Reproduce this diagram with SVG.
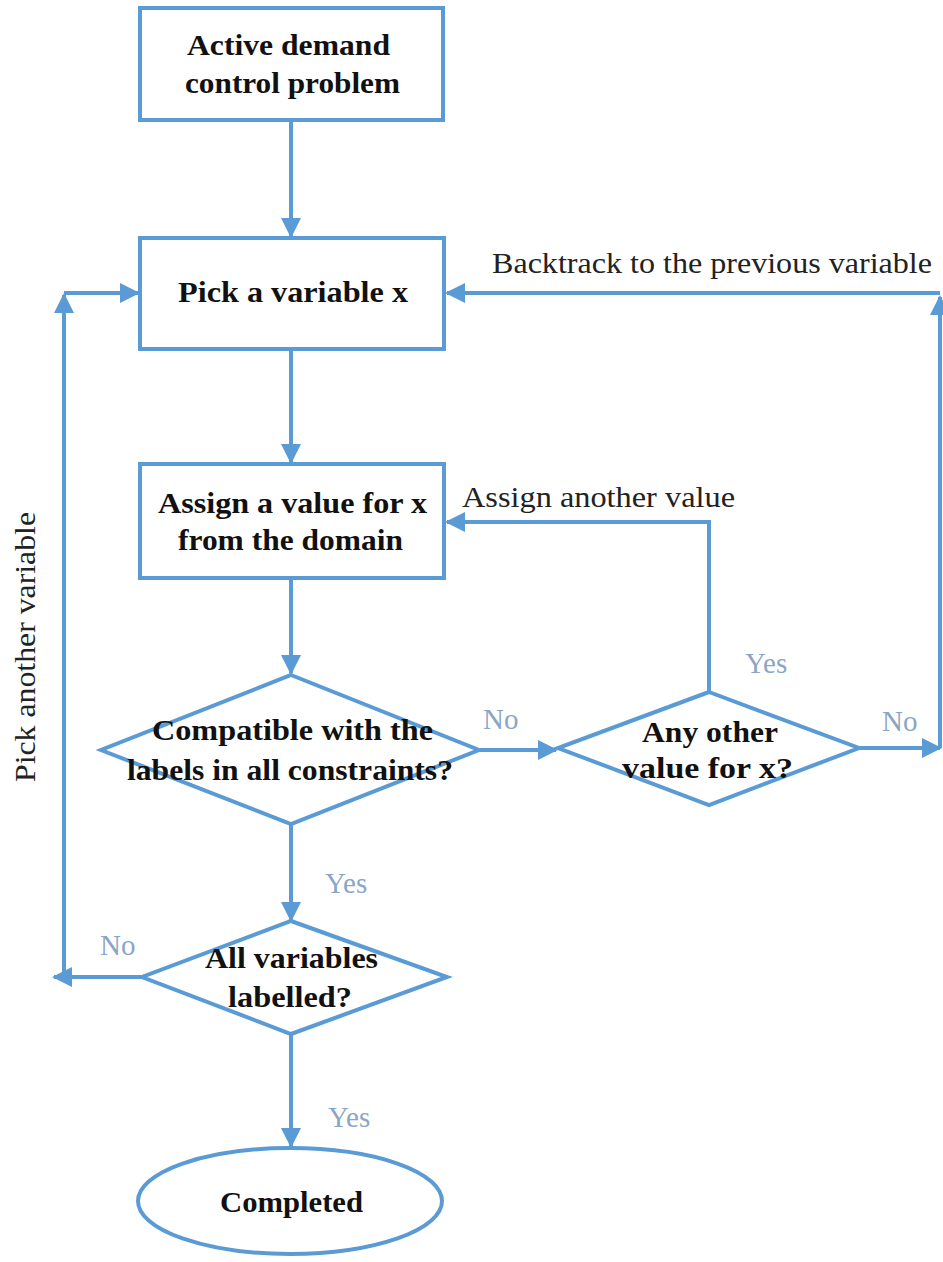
<svg xmlns="http://www.w3.org/2000/svg" width="943" height="1262" viewBox="0 0 943 1262">
  <style>
    .shape { fill: #ffffff; stroke: #5b9bd5; stroke-width: 4; }
    .wire { fill: none; stroke: #5b9bd5; stroke-width: 4; }
    .node-text { font-family: "Liberation Serif", "Times New Roman", serif; font-weight: bold; font-size: 30px; fill: #111111; }
    .note { font-family: "Liberation Serif", "Times New Roman", serif; font-size: 29px; fill: #222222; }
    .branch { font-family: "Liberation Serif", "Times New Roman", serif; font-size: 29px; fill: #8aa6c4; }
  </style>
  <defs>
    <marker id="arrow" viewBox="0 0 10 10" refX="9" refY="5" markerWidth="5" markerHeight="5" orient="auto" markerUnits="strokeWidth">
      <path d="M0,0 L10,5 L0,10 Z" fill="#5b9bd5"/>
    </marker>
  </defs>
  <rect width="943" height="1262" fill="#ffffff"/>

  <g id="connectors">
    <line class="wire" x1="291" y1="121" x2="291" y2="236" marker-end="url(#arrow)"/>
    <line class="wire" x1="291" y1="350" x2="291" y2="462" marker-end="url(#arrow)"/>
    <line class="wire" x1="291" y1="579" x2="291" y2="673" marker-end="url(#arrow)"/>
    <line class="wire" x1="480" y1="750" x2="556" y2="750" marker-end="url(#arrow)"/>
    <polyline class="wire" points="709,692 709,522 447,522" marker-end="url(#arrow)"/>
    <line class="wire" x1="860" y1="748" x2="940" y2="748" marker-end="url(#arrow)"/>
    <line class="wire" x1="940" y1="748" x2="940" y2="297" marker-end="url(#arrow)"/>
    <line class="wire" x1="940" y1="293" x2="447" y2="293" marker-end="url(#arrow)"/>
    <line class="wire" x1="291" y1="824" x2="291" y2="920" marker-end="url(#arrow)"/>
    <line class="wire" x1="142" y1="977" x2="54" y2="977" marker-end="url(#arrow)"/>
    <line class="wire" x1="64" y1="977" x2="64" y2="295" marker-end="url(#arrow)"/>
    <line class="wire" x1="64" y1="293" x2="138" y2="293" marker-end="url(#arrow)"/>
    <line class="wire" x1="291" y1="1034" x2="291" y2="1146" marker-end="url(#arrow)"/>
  </g>

  <g id="labels">
    <text class="note" x="492" y="273" textLength="440" lengthAdjust="spacingAndGlyphs">Backtrack to the previous variable</text>
    <text class="note" x="462" y="507" textLength="273" lengthAdjust="spacingAndGlyphs">Assign another value</text>
    <text class="note" transform="translate(35,782) rotate(-90)" textLength="270" lengthAdjust="spacingAndGlyphs">Pick another variable</text>
    <text class="branch" x="483" y="729">No</text>
    <text class="branch" x="745" y="673">Yes</text>
    <text class="branch" x="882" y="731">No</text>
    <text class="branch" x="325" y="893">Yes</text>
    <text class="branch" x="100" y="955">No</text>
    <text class="branch" x="328" y="1127">Yes</text>
  </g>

  <g id="start">
    <rect class="shape" x="140" y="8" width="303" height="112"/>
    <text class="node-text" x="187" y="55" textLength="203" lengthAdjust="spacingAndGlyphs">Active demand</text>
    <text class="node-text" x="185" y="93" textLength="215" lengthAdjust="spacingAndGlyphs">control problem</text>
  </g>

  <g id="pick-variable">
    <rect class="shape" x="140" y="238" width="304" height="111"/>
    <text class="node-text" x="178" y="302" textLength="230" lengthAdjust="spacingAndGlyphs">Pick a variable x</text>
  </g>

  <g id="assign-value">
    <rect class="shape" x="140" y="464" width="304" height="114"/>
    <text class="node-text" x="158" y="513" textLength="269" lengthAdjust="spacingAndGlyphs">Assign a value for x</text>
    <text class="node-text" x="178" y="550" textLength="225" lengthAdjust="spacingAndGlyphs">from the domain</text>
  </g>

  <g id="compatible">
    <polygon class="shape" points="291,675 479,750 291,824 101,750"/>
    <text class="node-text" x="152" y="740" textLength="281" lengthAdjust="spacingAndGlyphs">Compatible with the</text>
    <text class="node-text" x="127" y="780" textLength="326" lengthAdjust="spacingAndGlyphs">labels in all constraints?</text>
  </g>

  <g id="other-value">
    <polygon class="shape" points="709,692 859,748 709,805 558,748"/>
    <text class="node-text" x="642" y="742" textLength="136" lengthAdjust="spacingAndGlyphs">Any other</text>
    <text class="node-text" x="622" y="778" textLength="171" lengthAdjust="spacingAndGlyphs">value for x?</text>
  </g>

  <g id="all-labelled">
    <polygon class="shape" points="291,921 447,977 291,1034 142,977"/>
    <text class="node-text" x="205" y="968" textLength="173" lengthAdjust="spacingAndGlyphs">All variables</text>
    <text class="node-text" x="228" y="1007" textLength="124" lengthAdjust="spacingAndGlyphs">labelled?</text>
  </g>

  <g id="completed">
    <ellipse class="shape" cx="290" cy="1201" rx="152" ry="53"/>
    <text class="node-text" x="220" y="1212" textLength="143" lengthAdjust="spacingAndGlyphs">Completed</text>
  </g>
</svg>
